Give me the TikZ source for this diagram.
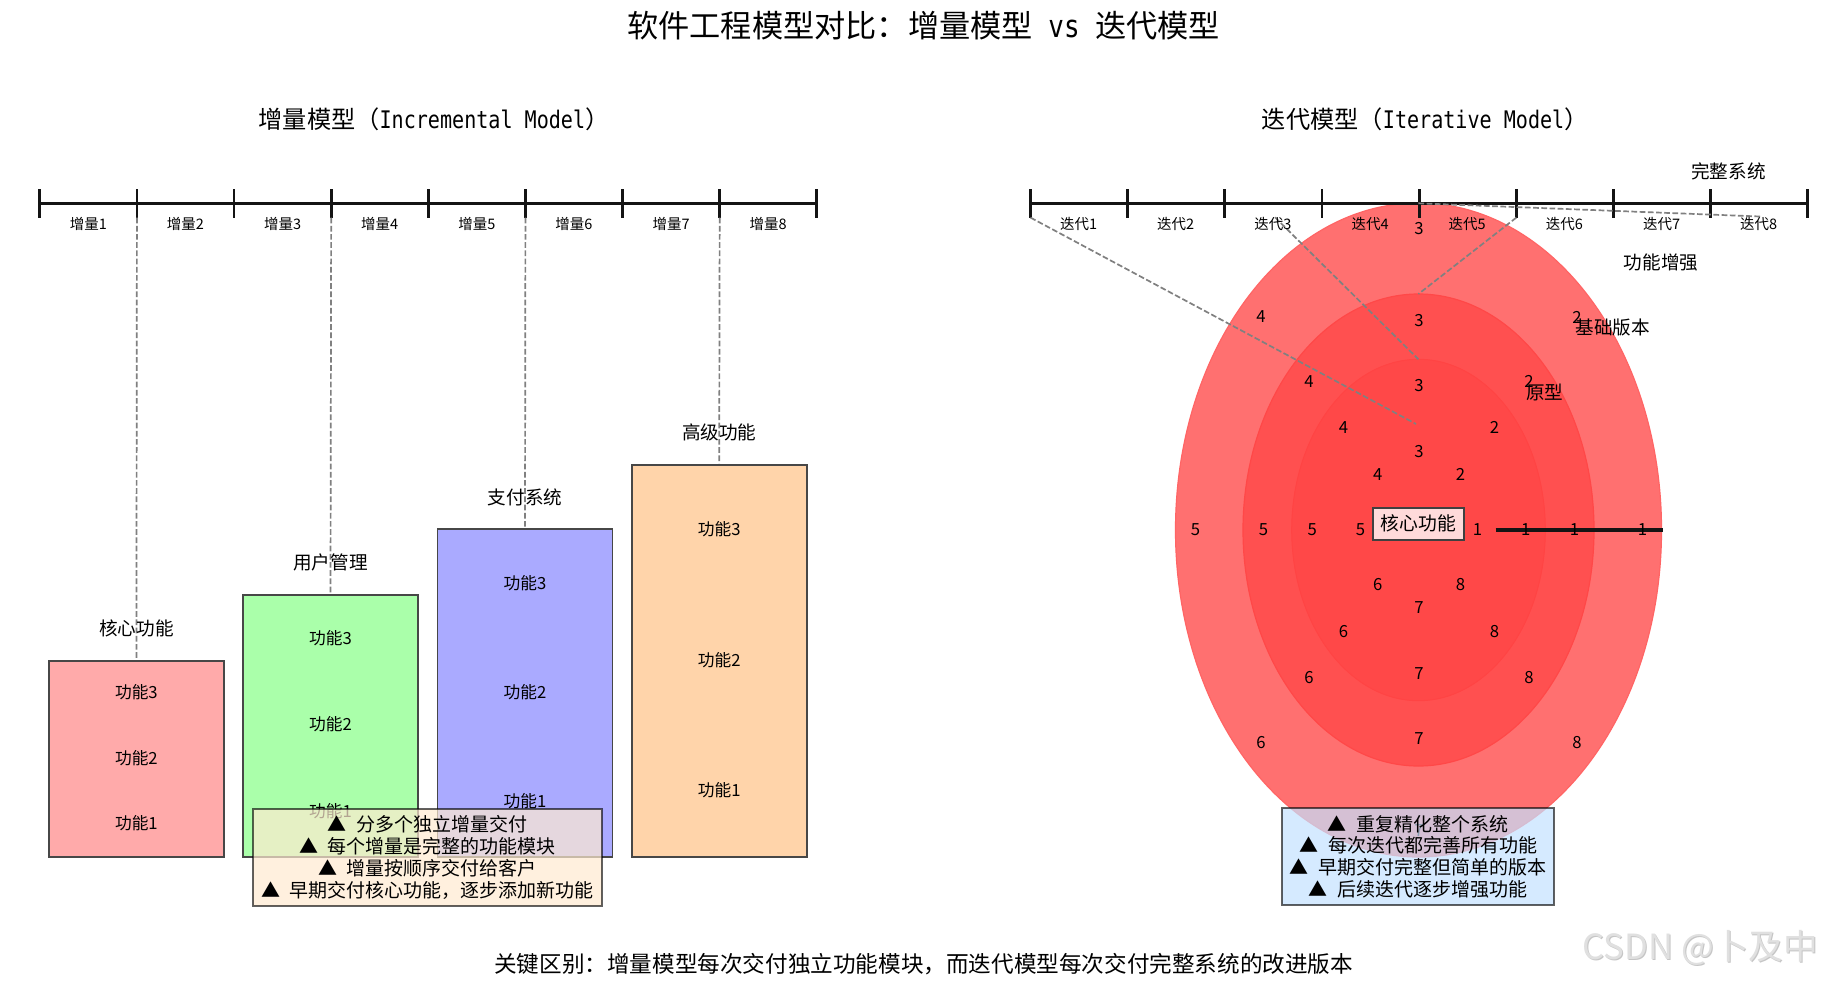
\documentclass[tikz,border=0pt]{standalone}
\usepackage{fontspec}
\usetikzlibrary{shapes.geometric}
\setmainfont{Noto Sans CJK SC}
\newfontfamily\latm[FakeStretch=0.83]{DejaVu Sans Mono}
\definecolor{cboxa}{HTML}{FFAAAA}
\definecolor{cboxb}{HTML}{AAFFAA}
\definecolor{cboxc}{HTML}{AAAAFF}
\definecolor{cboxd}{HTML}{FFD4AA}
\definecolor{cella}{HTML}{FF7070}
\definecolor{cellb}{HTML}{FF5050}
\definecolor{cellc}{HTML}{FF4848}
\definecolor{cnotea}{HTML}{FFEBD0}
\definecolor{cnoteb}{HTML}{C4E2FF}
\newcommand{\fs}[1]{\fontsize{#1}{#1}\selectfont}
\newcommand{\tri}{▲\hspace{10pt}}
\tikzset{
  x=1pt,y=-1pt,
  axisline/.style={line width=3.2pt,black!92},
  ticks/.style={line width=2.8pt,black!92},
  tinylab/.style={inner sep=0pt,font=\fs{14.5}},
  midlab/.style={inner sep=0pt,font=\fs{18.6}},
  funclab/.style={inner sep=0pt,font=\fs{16.7}},
  numlab/.style={inner sep=0pt,font=\fs{16.7}},
  incbox/.style={draw=black!72,line width=1.9pt,minimum width=175pt,inner sep=0pt,anchor=south},
  guide/.style={draw=black!50,line width=1.7pt,dash pattern=on 5.7pt off 2.5pt},
  note/.style={draw=black,draw opacity=.62,line width=1.9pt,fill opacity=.7,text opacity=1,inner sep=0pt,align=center,font=\fontsize{19}{21.8}\selectfont},
}
\begin{document}
\begin{tikzpicture}
\useasboundingbox (0,0) rectangle (1825,980);
\fill[white] (0,0) rectangle (1825,980);
% titles
\node[inner sep=0pt,font=\fs{31.2}] (maintitle) at (923.6,25.6) {软件工程模型对比：增量模型\hspace{.5em}{\latm vs}\hspace{.5em}迭代模型};
\node[inner sep=0pt,font=\fs{24.2}] (lefttitle) at (434,119) {增量模型（{\latm Incremental Model}）};
\node[inner sep=0pt,font=\fs{24.2}] (righttitle) at (1425.2,119) {迭代模型（{\latm Iterative Model}）};
\node[inner sep=0pt,font=\fs{22.6}] (keydiff) at (923.6,963.7) {关键区别：增量模型每次交付独立功能模块，而迭代模型每次交付完整系统的改进版本};

% left boxes
\node[incbox,fill=cboxa,minimum height=196pt] (boxa) at (136.4,858) {};
\node[incbox,fill=cboxb,minimum height=262pt] (boxb) at (330.5,858) {};
\node[incbox,fill=cboxc,minimum height=328pt] (boxc) at (525,858) {};
\node[incbox,fill=cboxd,minimum height=392.5pt] (boxd) at (719.2,858) {};
\foreach \nm/\x/\ya/\yb/\yc in {a/136.4/823/758/692,b/330.5/811/724.5/638.5,c/525/801/692/583.5,d/719.2/790/660/529}{
  \node[funclab] (f\nm1) at (\x,\ya) {功能1};
  \node[funclab] (f\nm2) at (\x,\yb) {功能2};
  \node[funclab] (f\nm3) at (\x,\yc) {功能3};
}
% left axis
\coordinate (la0) at (39.8,203.3);
\coordinate (la8) at (816.8,203.3);
\draw[axisline] (la0) -- (la8);
\foreach \i in {0,...,8}{
  \coordinate (lt\i) at ({39.8+97.125*\i},217.6);
  \coordinate (ltt\i) at ({39.8+97.125*\i},189);
  \draw[ticks] (ltt\i) -- (lt\i);
}
\foreach \i in {1,...,8}{
  \node[tinylab] (ll\i) at ({39.8+97.125*(\i-.5)},223.5) {增量\i};
}
\draw[guide] (lt1) -- (boxa.north);
\draw[guide] (lt3) -- (boxb.north);
\draw[guide] (lt5) -- (boxc.north);
\draw[guide] (lt7) -- (boxd.north);
\node[midlab] (na) at (136.4,628.5) {核心功能};
\node[midlab] (nb) at (330.5,562.5) {用户管理};
\node[midlab] (nc) at (525,497) {支付系统};
\node[midlab] (nd) at (719.2,432.5) {高级功能};

% right ellipses
\node[draw=cella!90!red,line width=1.2pt,ellipse,fill=cella,minimum width=486pt,minimum height=654pt,inner sep=0pt] (ea) at (1418.5,530) {};
\node[draw=cellb!90!red,line width=1.2pt,ellipse,fill=cellb,minimum width=351pt,minimum height=472pt,inner sep=0pt] (eb) at (1418.5,530) {};
\node[draw=cellc!95!red,line width=1pt,ellipse,fill=cellc,minimum width=253.6pt,minimum height=341.4pt,inner sep=0pt] (ec) at (1418.5,530) {};
% right axis
\coordinate (ra0) at (1030.5,203.3);
\coordinate (ra8) at (1807.8,203.3);
\draw[axisline] (ra0) -- (ra8);
\foreach \i in {0,...,8}{
  \coordinate (rt\i) at ({1030.5+97.16*\i},217.6);
  \coordinate (rtt\i) at ({1030.5+97.16*\i},189);
  \draw[ticks] (rtt\i) -- (rt\i);
}
% rays
\coordinate (raya) at (1663,530);
\coordinate (rayb) at (1495.6,530);
\draw[line width=3.2pt,black!92] (rayb) -- (raya);
% dashed
\coordinate (da) at (1416,424);
\coordinate (db) at (1418.4,359.3);
\coordinate (dc) at (1418.4,294);
\coordinate (dd) at (1418.4,203.3);
\coordinate (sb) at (1275,217.3);
\coordinate (se) at (1760,216.5);
\draw[guide] (rt0) -- (da);
\draw[guide] (sb) -- (db);
\draw[guide] (rt5) -- (dc);
\draw[guide] (dd) -- (se);
\foreach \i in {1,...,8}{
  \node[tinylab] (rl\i) at ({1030.5+97.16*(\i-.5)-.5},224) {迭代\i};
}
\foreach \s/\rx/\ry in {a/58.5/77.8,b/106.7/144.3,c/155.5/209.3,d/223.6/300.7}{
  \foreach \k in {1,...,8}{
    \pgfmathsetmacro{\px}{1419+\rx*cos((\k-1)*45)}
    \pgfmathsetmacro{\py}{529.6-\ry*sin((\k-1)*45)}
    \node[numlab] (n\s\k) at (\px,\py) {\k};
  }
}
% side labels
\node[midlab] (s1) at (1728.5,171) {完整系统};
\node[midlab] (s2) at (1661,262.3) {功能增强};
\node[midlab] (s3) at (1612.6,327.3) {基础版本};
\node[midlab] (s4) at (1544.7,392.3) {原型};
% core
\node[draw=black!75,line width=1.9pt,fill=white,fill opacity=.8,text opacity=1,minimum width=91pt,minimum height=32pt,inner sep=0pt,font=\fs{18.8}] (core) at (1418.2,523.6) {核心功能};
% notes
\node[note,fill=cnotea,minimum width=349.5pt,minimum height=97.3pt] (notea) at (427.5,857.3)
 {\tri 分多个独立增量交付\\\tri 每个增量是完整的功能模块\\\tri 增量按顺序交付给客户\\\tri 早期交付核心功能，逐步添加新功能};
\node[note,fill=cnoteb,minimum width=272.5pt,minimum height=97.5pt] (noteb) at (1418,856.6)
 {\tri 重复精化整个系统\\\tri 每次迭代都完善所有功能\\\tri 早期交付完整但简单的版本\\\tri 后续迭代逐步增强功能};
% watermark
\node[inner sep=0pt,text=black!45,opacity=.5,font=\fs{34.7}] (wmshadow) at (1701.5,948.5) {CSDN @卜及中};
\node[inner sep=0pt,text=black!12,font=\fs{34.7}] (wm) at (1700.5,947.5) {CSDN @卜及中};
\end{tikzpicture}
\end{document}
